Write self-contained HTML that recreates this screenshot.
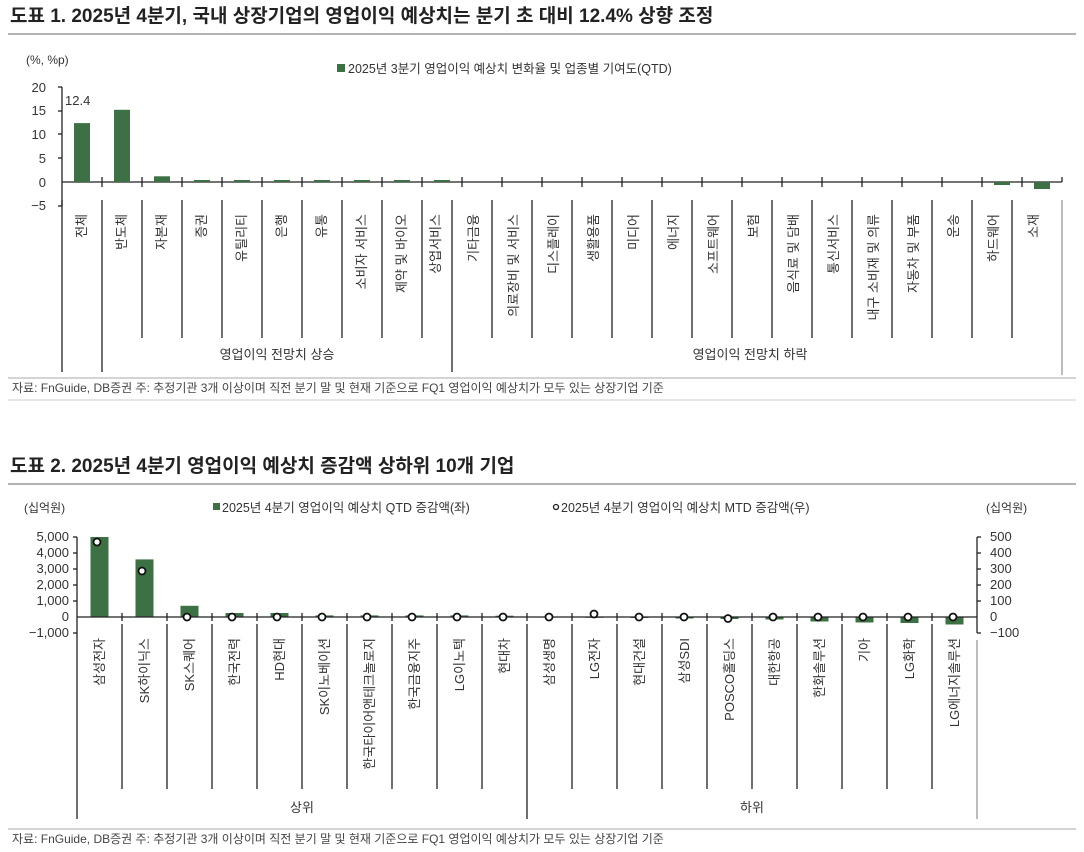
<!DOCTYPE html>
<html><head><meta charset="utf-8"><style>
html,body{margin:0;padding:0;background:#fff;}
svg{display:block;font-family:"Liberation Sans","Noto Sans CJK KR",sans-serif;}
</style></head><body>
<svg width="1084" height="852" viewBox="0 0 1084 852" xmlns="http://www.w3.org/2000/svg">
<text x="10" y="22" font-size="19" font-weight="bold" fill="#222">도표 1. 2025년 4분기, 국내 상장기업의 영업이익 예상치는 분기 초 대비 12.4% 상향 조정</text>
<line x1="8" y1="34" x2="1076" y2="34" stroke="#999" stroke-width="1.5"/>
<text x="26" y="64" font-size="12" fill="#333">(%, %p)</text>
<rect x="337" y="64" width="8" height="8" fill="#3d7145"/>
<text x="348" y="73" font-size="12.5" fill="#333">2025년 3분기 영업이익  예상치  변화율  및  업종별  기여도(QTD)</text>
<g transform="translate(0,-2)">
<g font-size="13" fill="#333" text-anchor="end">
<text x="46" y="94">20</text><text x="46" y="117">15</text><text x="46" y="141">10</text><text x="46" y="165">5</text><text x="46" y="189">0</text><text x="46" y="212">−5</text>
</g>
<g stroke="#222" stroke-width="1.3">
<line x1="62" y1="89" x2="62" y2="208"/>
<line x1="58" y1="89" x2="62" y2="89"/><line x1="58" y1="113" x2="62" y2="113"/><line x1="58" y1="136" x2="62" y2="136"/><line x1="58" y1="160" x2="62" y2="160"/><line x1="58" y1="208" x2="62" y2="208"/>
<line x1="62" y1="184" x2="1062" y2="184"/>
</g>
<text x="65" y="107" font-size="13" fill="#333">12.4</text>
<g fill="#3d7145">
<rect x="74" y="125.1" width="16" height="58.9"/>
<rect x="114" y="111.8" width="16" height="72.2"/>
<rect x="154" y="178.3" width="16" height="5.7"/>
<rect x="194" y="182" width="16" height="2"/><rect x="234" y="182" width="16" height="2"/><rect x="274" y="182" width="16" height="2"/><rect x="314" y="182" width="16" height="2"/><rect x="354" y="182" width="16" height="2"/><rect x="394" y="182" width="16" height="2"/><rect x="434" y="182" width="16" height="2"/>
<rect x="994" y="184" width="16" height="3"/>
<rect x="1034" y="184" width="16" height="7"/>
</g>
<g stroke="#222" stroke-width="1.3">
<line x1="102" y1="179" x2="102" y2="189"/><line x1="142" y1="179" x2="142" y2="189"/><line x1="182" y1="179" x2="182" y2="189"/><line x1="222" y1="179" x2="222" y2="189"/><line x1="262" y1="179" x2="262" y2="189"/><line x1="302" y1="179" x2="302" y2="189"/><line x1="342" y1="179" x2="342" y2="189"/><line x1="382" y1="179" x2="382" y2="189"/><line x1="422" y1="179" x2="422" y2="189"/><line x1="462" y1="179" x2="462" y2="189"/><line x1="502" y1="179" x2="502" y2="189"/><line x1="542" y1="179" x2="542" y2="189"/><line x1="582" y1="179" x2="582" y2="189"/><line x1="622" y1="179" x2="622" y2="189"/><line x1="662" y1="179" x2="662" y2="189"/><line x1="702" y1="179" x2="702" y2="189"/><line x1="742" y1="179" x2="742" y2="189"/><line x1="782" y1="179" x2="782" y2="189"/><line x1="822" y1="179" x2="822" y2="189"/><line x1="862" y1="179" x2="862" y2="189"/><line x1="902" y1="179" x2="902" y2="189"/><line x1="942" y1="179" x2="942" y2="189"/><line x1="982" y1="179" x2="982" y2="189"/><line x1="1022" y1="179" x2="1022" y2="189"/><line x1="1062" y1="179" x2="1062" y2="184"/>
</g>
</g>
<g stroke="#222" stroke-width="1.3">
<line x1="62" y1="200" x2="62" y2="372"/>
<line x1="102" y1="200" x2="102" y2="372"/><line x1="142" y1="200" x2="142" y2="338"/><line x1="182" y1="200" x2="182" y2="338"/><line x1="222" y1="200" x2="222" y2="338"/><line x1="262" y1="200" x2="262" y2="338"/><line x1="302" y1="200" x2="302" y2="338"/><line x1="342" y1="200" x2="342" y2="338"/><line x1="382" y1="200" x2="382" y2="338"/><line x1="422" y1="200" x2="422" y2="338"/><line x1="452" y1="200" x2="452" y2="372"/><line x1="492" y1="200" x2="492" y2="338"/><line x1="532" y1="200" x2="532" y2="338"/><line x1="572" y1="200" x2="572" y2="338"/><line x1="612" y1="200" x2="612" y2="338"/><line x1="652" y1="200" x2="652" y2="338"/><line x1="692" y1="200" x2="692" y2="338"/><line x1="732" y1="200" x2="732" y2="338"/><line x1="772" y1="200" x2="772" y2="338"/><line x1="812" y1="200" x2="812" y2="338"/><line x1="852" y1="200" x2="852" y2="338"/><line x1="892" y1="200" x2="892" y2="338"/><line x1="932" y1="200" x2="932" y2="338"/><line x1="972" y1="200" x2="972" y2="338"/><line x1="1012" y1="200" x2="1012" y2="338"/>
</g>
<line x1="1062" y1="200" x2="1062" y2="375" stroke="#999" stroke-width="1.3"/>
<g font-size="13" fill="#333" text-anchor="end">
<text transform="translate(86,214) rotate(-90)">전체</text>
<text transform="translate(126,214) rotate(-90)">반도체</text>
<text transform="translate(166,214) rotate(-90)">자본재</text>
<text transform="translate(206,214) rotate(-90)">증권</text>
<text transform="translate(246,214) rotate(-90)">유틸리티</text>
<text transform="translate(286,214) rotate(-90)">은행</text>
<text transform="translate(326,214) rotate(-90)">유통</text>
<text transform="translate(366,214) rotate(-90)">소비자 서비스</text>
<text transform="translate(406,214) rotate(-90)">제약 및 바이오</text>
<text transform="translate(440,214) rotate(-90)">상업서비스</text>
<text transform="translate(478,214) rotate(-90)">기타금융</text>
<text transform="translate(518,214) rotate(-90)">의료장비 및 서비스</text>
<text transform="translate(558,214) rotate(-90)">디스플레이</text>
<text transform="translate(598,214) rotate(-90)">생활용품</text>
<text transform="translate(638,214) rotate(-90)">미디어</text>
<text transform="translate(678,214) rotate(-90)">에너지</text>
<text transform="translate(718,214) rotate(-90)">소프트웨어</text>
<text transform="translate(758,214) rotate(-90)">보험</text>
<text transform="translate(798,214) rotate(-90)">음식료 및 담배</text>
<text transform="translate(838,214) rotate(-90)">통신서비스</text>
<text transform="translate(878,214) rotate(-90)">내구 소비재 및 의류</text>
<text transform="translate(918,214) rotate(-90)">자동차 및 부품</text>
<text transform="translate(958,214) rotate(-90)">운송</text>
<text transform="translate(998,214) rotate(-90)">하드웨어</text>
<text transform="translate(1038,214) rotate(-90)">소재</text>
</g>
<g font-size="13" fill="#333" text-anchor="middle">
<text x="277" y="359">영업이익  전망치  상승</text>
<text x="750" y="359">영업이익  전망치  하락</text>
</g>
<line x1="8" y1="378" x2="1076" y2="378" stroke="#bbb" stroke-width="1.3"/>
<text x="12" y="392" font-size="12" fill="#444">자료: FnGuide, DB증권 주: 추정기관 3개 이상이며 직전 분기 말 및 현재 기준으로 FQ1 영업이익 예상치가 모두 있는 상장기업 기준</text>
<line x1="8" y1="400" x2="1076" y2="400" stroke="#ccc" stroke-width="1"/>

<text x="10" y="472" font-size="19" font-weight="bold" fill="#222">도표 2. 2025년 4분기 영업이익 예상치 증감액 상하위 10개 기업</text>
<line x1="8" y1="484" x2="1076" y2="484" stroke="#999" stroke-width="1.5"/>
<text x="24" y="512" font-size="12" fill="#333">(십억원)</text>
<text x="986" y="512" font-size="12" fill="#333">(십억원)</text>
<rect x="213" y="503" width="7" height="7" fill="#3d7145"/>
<text x="222" y="512" font-size="12.5" fill="#333">2025년 4분기 영업이익  예상치  QTD  증감액(좌)</text>
<circle cx="556" cy="507" r="2.5" fill="#fff" stroke="#222" stroke-width="1.3"/>
<text x="561" y="512" font-size="12.5" fill="#333">2025년 4분기 영업이익  예상치  MTD  증감액(우)</text>
<g font-size="13" fill="#333" text-anchor="end">
<text x="69" y="541">5,000</text><text x="69" y="557">4,000</text><text x="69" y="573">3,000</text><text x="69" y="589">2,000</text><text x="69" y="605">1,000</text><text x="69" y="621">0</text><text x="69" y="637">−1,000</text>
</g>
<g font-size="13" fill="#333">
<text x="990" y="541">500</text><text x="990" y="557">400</text><text x="990" y="573">300</text><text x="990" y="589">200</text><text x="990" y="605">100</text><text x="990" y="621">0</text><text x="990" y="637">−100</text>
</g>
<g fill="#3d7145">
<rect x="90.5" y="537" width="18" height="80"/>
<rect x="135.5" y="559.4" width="18" height="57.6"/>
<rect x="180.5" y="605.8" width="18" height="11.2"/>
<rect x="225.5" y="613" width="18" height="4"/>
<rect x="270.5" y="613" width="18" height="4"/>
<rect x="315.5" y="615.4" width="18" height="1.6"/>
<rect x="360.5" y="615.4" width="18" height="1.6"/>
<rect x="405.5" y="615.4" width="18" height="1.6"/>
<rect x="450.5" y="615.4" width="18" height="1.6"/>
<rect x="495.5" y="615.7" width="18" height="1.3"/>
<rect x="540.5" y="617" width="18" height="0.6"/>
<rect x="585.5" y="617" width="18" height="0.8"/>
<rect x="630.5" y="617" width="18" height="1"/>
<rect x="675.5" y="617" width="18" height="1.5"/>
<rect x="720.5" y="617" width="18" height="2"/>
<rect x="765.5" y="617" width="18" height="2.5"/>
<rect x="810.5" y="617" width="18" height="4.5"/>
<rect x="855.5" y="617" width="18" height="5.5"/>
<rect x="900.5" y="617" width="18" height="6"/>
<rect x="945.5" y="617" width="18" height="7.5"/>
</g>
<g stroke="#222" stroke-width="1.3">
<line x1="77" y1="537" x2="77" y2="819"/>
<line x1="977" y1="537" x2="977" y2="633"/>
<line x1="77" y1="617" x2="977" y2="617"/>
<line x1="73" y1="537" x2="77" y2="537"/><line x1="73" y1="553" x2="77" y2="553"/><line x1="73" y1="569" x2="77" y2="569"/><line x1="73" y1="585" x2="77" y2="585"/><line x1="73" y1="601" x2="77" y2="601"/><line x1="73" y1="633" x2="77" y2="633"/>
<line x1="977" y1="537" x2="981" y2="537"/><line x1="977" y1="553" x2="981" y2="553"/><line x1="977" y1="569" x2="981" y2="569"/><line x1="977" y1="585" x2="981" y2="585"/><line x1="977" y1="601" x2="981" y2="601"/><line x1="977" y1="633" x2="981" y2="633"/>
<line x1="122" y1="613" x2="122" y2="621"/><line x1="167" y1="613" x2="167" y2="621"/><line x1="212" y1="613" x2="212" y2="621"/><line x1="257" y1="613" x2="257" y2="621"/><line x1="302" y1="613" x2="302" y2="621"/><line x1="347" y1="613" x2="347" y2="621"/><line x1="392" y1="613" x2="392" y2="621"/><line x1="437" y1="613" x2="437" y2="621"/><line x1="482" y1="613" x2="482" y2="621"/><line x1="527" y1="613" x2="527" y2="621"/><line x1="572" y1="613" x2="572" y2="621"/><line x1="617" y1="613" x2="617" y2="621"/><line x1="662" y1="613" x2="662" y2="621"/><line x1="707" y1="613" x2="707" y2="621"/><line x1="752" y1="613" x2="752" y2="621"/><line x1="797" y1="613" x2="797" y2="621"/><line x1="842" y1="613" x2="842" y2="621"/><line x1="887" y1="613" x2="887" y2="621"/><line x1="932" y1="613" x2="932" y2="621"/>
<line x1="122" y1="624" x2="122" y2="789"/><line x1="167" y1="624" x2="167" y2="789"/><line x1="212" y1="624" x2="212" y2="789"/><line x1="257" y1="624" x2="257" y2="789"/><line x1="302" y1="624" x2="302" y2="789"/><line x1="347" y1="624" x2="347" y2="789"/><line x1="392" y1="624" x2="392" y2="789"/><line x1="437" y1="624" x2="437" y2="789"/><line x1="482" y1="624" x2="482" y2="789"/><line x1="527" y1="624" x2="527" y2="819"/><line x1="572" y1="624" x2="572" y2="789"/><line x1="617" y1="624" x2="617" y2="789"/><line x1="662" y1="624" x2="662" y2="789"/><line x1="707" y1="624" x2="707" y2="789"/><line x1="752" y1="624" x2="752" y2="789"/><line x1="797" y1="624" x2="797" y2="789"/><line x1="842" y1="624" x2="842" y2="789"/><line x1="887" y1="624" x2="887" y2="789"/><line x1="932" y1="624" x2="932" y2="789"/>
</g>
<line x1="977" y1="640" x2="977" y2="819" stroke="#999" stroke-width="1.3"/>
<g fill="#fff" stroke="#111" stroke-width="1.8">
<circle cx="97" cy="542" r="3.5"/><circle cx="142" cy="571" r="3.5"/><circle cx="187" cy="617" r="3.5"/><circle cx="232" cy="617" r="3.5"/><circle cx="277" cy="617" r="3.5"/><circle cx="322" cy="617" r="3.5"/><circle cx="367" cy="617" r="3.5"/><circle cx="412" cy="617" r="3.5"/><circle cx="457" cy="617" r="3.5"/><circle cx="503" cy="617" r="3.5"/><circle cx="549" cy="617" r="3.5"/><circle cx="594" cy="614" r="3.5"/><circle cx="639" cy="617" r="3.5"/><circle cx="684" cy="617" r="3.5"/><circle cx="728" cy="618.5" r="3.5"/><circle cx="773" cy="617" r="3.5"/><circle cx="818" cy="617" r="3.5"/><circle cx="863" cy="617" r="3.5"/><circle cx="908" cy="617" r="3.5"/><circle cx="953" cy="617" r="3.5"/>
</g>
<g font-size="13" fill="#333" text-anchor="end">
<text transform="translate(104,638) rotate(-90)">삼성전자</text>
<text transform="translate(149,638) rotate(-90)">SK하이닉스</text>
<text transform="translate(194,638) rotate(-90)">SK스퀘어</text>
<text transform="translate(239,638) rotate(-90)">한국전력</text>
<text transform="translate(284,638) rotate(-90)">HD현대</text>
<text transform="translate(329,638) rotate(-90)">SK이노베이션</text>
<text transform="translate(374,638) rotate(-90)">한국타이어앤테크놀로지</text>
<text transform="translate(419,638) rotate(-90)">한국금융지주</text>
<text transform="translate(464,638) rotate(-90)">LG이노텍</text>
<text transform="translate(509,638) rotate(-90)">현대차</text>
<text transform="translate(554,638) rotate(-90)">삼성생명</text>
<text transform="translate(599,638) rotate(-90)">LG전자</text>
<text transform="translate(644,638) rotate(-90)">현대건설</text>
<text transform="translate(689,638) rotate(-90)">삼성SDI</text>
<text transform="translate(734,638) rotate(-90)">POSCO홀딩스</text>
<text transform="translate(779,638) rotate(-90)">대한항공</text>
<text transform="translate(824,638) rotate(-90)">한화솔루션</text>
<text transform="translate(869,638) rotate(-90)">기아</text>
<text transform="translate(914,638) rotate(-90)">LG화학</text>
<text transform="translate(959,638) rotate(-90)">LG에너지솔루션</text>
</g>
<g font-size="13" fill="#333" text-anchor="middle">
<text x="302" y="812">상위</text>
<text x="752" y="812">하위</text>
</g>
<line x1="8" y1="829" x2="1076" y2="829" stroke="#bbb" stroke-width="1.3"/>
<text x="12" y="843" font-size="12" fill="#444">자료: FnGuide, DB증권 주: 추정기관 3개 이상이며 직전 분기 말 및 현재 기준으로 FQ1 영업이익 예상치가 모두 있는 상장기업 기준</text>
</svg>
</body></html>
